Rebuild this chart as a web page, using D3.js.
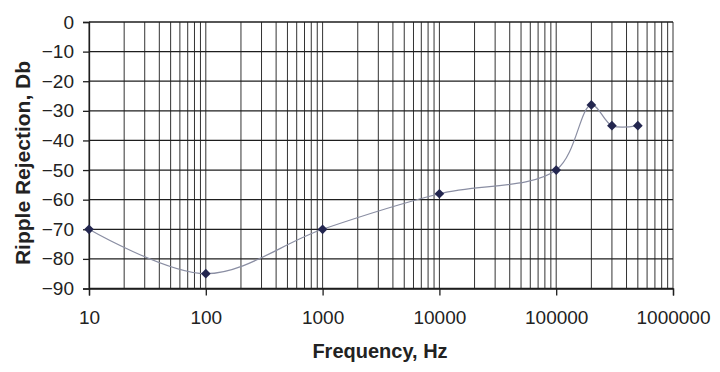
<!DOCTYPE html>
<html>
<head>
<meta charset="utf-8">
<script src="https://cdn.jsdelivr.net/npm/d3@7"></script>
<style>
  body { margin: 0; background: #fff; }
  text { font-family: "Liberation Sans", Arial, sans-serif; }
</style>
</head>
<body>
<svg id="chart" width="720" height="372"></svg>
<script>
// data
const freq = [10, 100, 1000, 10000, 100000, 200000, 300000, 500000];
const rejection = [-70, -85, -70, -58, -50, -28, -35, -35];
const xTicks = [10, 100, 1000, 10000, 100000, 1000000];
const yTicks = [0, -10, -20, -30, -40, -50, -60, -70, -80, -90];

const svg = d3.select('#chart');
const plotL = 89, plotR = 673, plotT = 22, plotB = 288.5;

const x = d3.scaleLog().domain([10, 1000000]).range([plotL, plotR]);
const y = d3.scaleLinear().domain([-90, 0]).range([plotB, plotT]);

// minor vertical grid: 1..9 in every decade
let minor = [];
for (let d = 10; d < 1000000; d *= 10) {
    for (let k = 1; k <= 9; k++) minor.push(d * k);
}
minor.push(1000000);

const grid = svg.append('g');
grid.selectAll('line.v')
    .data(minor)
    .enter().append('line')
    .attr('x1', d => x(d)).attr('x2', d => x(d))
    .attr('y1', plotT).attr('y2', plotB)
    .attr('stroke', '#333')
    .attr('stroke-width', 1);

grid.selectAll('line.h')
    .data(yTicks)
    .enter().append('line')
    .attr('x1', plotL).attr('x2', plotR)
    .attr('y1', d => y(d)).attr('y2', d => y(d))
    .attr('stroke', '#1e1e1e')
    .attr('stroke-width', 1.3);

// y axis
const yAxis = svg.append('g')
    .attr('transform', `translate(${plotL},0)`)
    .call(d3.axisLeft(y).tickValues(yTicks).tickSize(6).tickPadding(9).tickFormat(d3.format('d')));
yAxis.select('.domain').attr('stroke', '#1e1e1e').attr('stroke-width', 1.3);
yAxis.selectAll('line').attr('stroke', '#1e1e1e').attr('stroke-width', 1.3);
yAxis.selectAll('text').attr('font-size', 19).attr('fill', '#222')
    .style('font-family', '"Liberation Sans", Arial, sans-serif');

// x axis
const xAxis = svg.append('g')
    .attr('transform', `translate(0,${plotB})`)
    .call(d3.axisBottom(x).tickValues(xTicks).tickSize(7).tickPadding(15).tickFormat(d3.format('d')));
xAxis.select('.domain').attr('stroke', '#1e1e1e').attr('stroke-width', 1.3);
xAxis.selectAll('line').attr('stroke', '#1e1e1e').attr('stroke-width', 1.3);
xAxis.selectAll('text').attr('font-size', 19).attr('fill', '#222')
    .style('font-family', '"Liberation Sans", Arial, sans-serif');

// axis titles
svg.append('text')
    .attr('x', 380).attr('y', 358)
    .attr('text-anchor', 'middle')
    .attr('font-size', 20).attr('font-weight', 'bold').attr('fill', '#222')
    .text('Frequency, Hz');

svg.append('text')
    .attr('transform', 'translate(30,163) rotate(-90)')
    .attr('text-anchor', 'middle')
    .attr('font-size', 21).attr('font-weight', 'bold').attr('fill', '#222')
    .text('Ripple Rejection, Db');

// smoothed data line
const pts = freq.map((f, i) => [f, rejection[i]]);
const line = d3.line()
    .x(d => x(d[0]))
    .y(d => y(d[1]))
    .curve(d3.curveCatmullRom.alpha(0.5));

svg.append('path')
    .datum(pts)
    .attr('d', line)
    .attr('fill', 'none')
    .attr('stroke', '#8a8ea3')
    .attr('stroke-width', 1.2);

// diamond markers
svg.selectAll('path.mark')
    .data(pts)
    .enter().append('path')
    .attr('class', 'mark')
    .attr('transform', d => `translate(${x(d[0])},${y(d[1])})`)
    .attr('d', d3.symbol(d3.symbolDiamond2, 60))
    .attr('fill', '#23264f');
</script>
</body>
</html>
